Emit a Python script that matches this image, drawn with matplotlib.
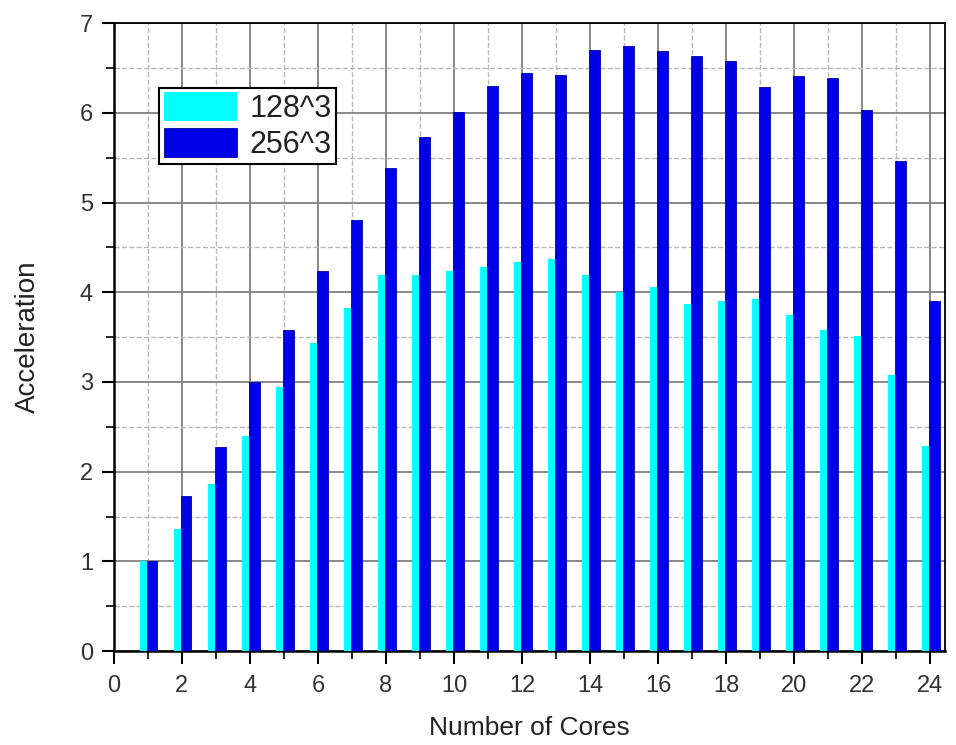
import numpy as np
import matplotlib
matplotlib.use("Agg")
import matplotlib.pyplot as plt
from matplotlib.ticker import MultipleLocator

plt.rcParams['font.family'] = ['Liberation Sans', 'DejaVu Sans']

cores = np.arange(1, 25)
acc_128 = [1.00, 1.36, 1.86, 2.40, 2.94, 3.43, 3.83, 4.19, 4.19, 4.24, 4.28, 4.34,
           4.37, 4.19, 4.00, 4.06, 3.87, 3.90, 3.93, 3.75, 3.58, 3.51, 3.08, 2.29]
acc_256 = [1.00, 1.73, 2.27, 3.00, 3.58, 4.24, 4.80, 5.39, 5.73, 6.01, 6.30, 6.44,
           6.42, 6.70, 6.75, 6.69, 6.63, 6.58, 6.29, 6.41, 6.39, 6.03, 5.46, 3.90]
labels = ['128^3', '256^3']

fig = plt.figure(figsize=(9.56, 7.45), dpi=100)
ax = fig.add_axes([0.119, 0.126, 0.869, 0.843])

w = 0.31
ax.bar(cores - 0.08, acc_128, width=w, color='#00ffff', label=labels[0], zorder=3)
ax.bar(cores + 0.13, acc_256, width=w, color='#0000e8', edgecolor='#0000a8',
       linewidth=0.6, label=labels[1], zorder=4)

ax.set_xlim(0, 24.42)
ax.set_ylim(0, 7)
ax.xaxis.set_major_locator(MultipleLocator(2))
ax.xaxis.set_minor_locator(MultipleLocator(1))
ax.yaxis.set_major_locator(MultipleLocator(1))
ax.yaxis.set_minor_locator(MultipleLocator(0.5))

ax.grid(which='major', color='#808080', linestyle='-', linewidth=1.3, zorder=1)
ax.grid(which='minor', color='#b8b8b8', linestyle='--', linewidth=1.0, zorder=1)
ax.set_axisbelow(True)

ax.tick_params(which='major', direction='out', length=9, width=1.5, labelsize=17,
               colors='black', labelcolor='#333333', top=False, right=False)
ax.tick_params(which='minor', direction='out', length=5.5, width=1.2,
               top=False, right=False)
ax.tick_params(axis='x', pad=8)
ax.tick_params(axis='y', pad=6)

for side in ['left', 'bottom']:
    ax.spines[side].set_linewidth(1.8)
for side in ['top', 'right']:
    ax.spines[side].set_linewidth(1.3)

ax.set_xlabel('Number of Cores', fontsize=19, labelpad=14, color='#222222')
ax.set_ylabel('Acceleration', fontsize=20, labelpad=28, color='#222222')

leg = ax.legend(loc='upper left', bbox_to_anchor=(0.055, 0.897), borderaxespad=0,
                fontsize=22, handlelength=2.4, handleheight=1.08, handletextpad=0.4,
                labelspacing=0.12, borderpad=0.15, fancybox=False, framealpha=1,
                edgecolor='black')
leg.get_frame().set_linewidth(1.5)
for t in leg.get_texts():
    t.set_color('#222222')

fig.savefig('out.png', dpi=100)
